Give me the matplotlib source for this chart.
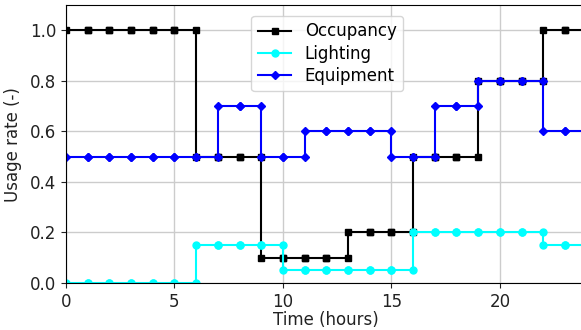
import numpy as np
import matplotlib
matplotlib.use("Agg")
import matplotlib.pyplot as plt

# hourly schedules (value held over each hour h -> h+1)
hours = list(range(24))
occupancy = [1.0, 1.0, 1.0, 1.0, 1.0, 1.0, 0.5, 0.5, 0.5, 0.1, 0.1, 0.1,
             0.1, 0.2, 0.2, 0.2, 0.5, 0.5, 0.5, 0.8, 0.8, 0.8, 1.0, 1.0]
lighting = [0.0, 0.0, 0.0, 0.0, 0.0, 0.0, 0.15, 0.15, 0.15, 0.15, 0.05, 0.05,
            0.05, 0.05, 0.05, 0.05, 0.2, 0.2, 0.2, 0.2, 0.2, 0.2, 0.15, 0.15]
equipment = [0.5, 0.5, 0.5, 0.5, 0.5, 0.5, 0.5, 0.7, 0.7, 0.5, 0.5, 0.6,
             0.6, 0.6, 0.6, 0.5, 0.5, 0.7, 0.7, 0.8, 0.8, 0.8, 0.6, 0.6]


def hold(values):
    # each hour becomes a flat segment from h to h+1
    x = np.column_stack([hours, np.array(hours) + 1]).ravel()
    y = np.repeat(values, 2)
    return x, y


fig = plt.figure(figsize=(5.81, 3.3), dpi=100)
ax = fig.add_axes([0.1136, 0.1424, 0.896, 0.842])

x, y = hold(occupancy)
ax.plot(x, y, color="black", marker="s", markersize=5, linewidth=1.5, label="Occupancy")
x, y = hold(lighting)
ax.plot(x, y, color="cyan", marker="o", markersize=5, linewidth=1.5, label="Lighting")
x, y = hold(equipment)
ax.plot(x, y, color="blue", marker="D", markersize=4.5, linewidth=1.5, label="Equipment")

ax.set_xlim(0, 24)
ax.set_ylim(0, 1.1)
ax.set_xticks([0, 5, 10, 15, 20])
ax.set_yticks([0.0, 0.2, 0.4, 0.6, 0.8, 1.0])
ax.tick_params(labelsize=12, colors="#222222")
ax.grid(True, color="#cccccc", linewidth=1)
ax.set_axisbelow(True)
ax.set_xlabel("Time (hours)", fontsize=12, labelpad=0, color="#222222")
ax.set_ylabel("Usage rate (-)", fontsize=12, labelpad=6, color="#222222")
ax.legend(loc="upper center", bbox_to_anchor=(0.502, 0.98), fontsize=12,
          handlelength=2.0, labelspacing=0.25, borderaxespad=0.3)

fig.savefig("out.png", dpi=100)
